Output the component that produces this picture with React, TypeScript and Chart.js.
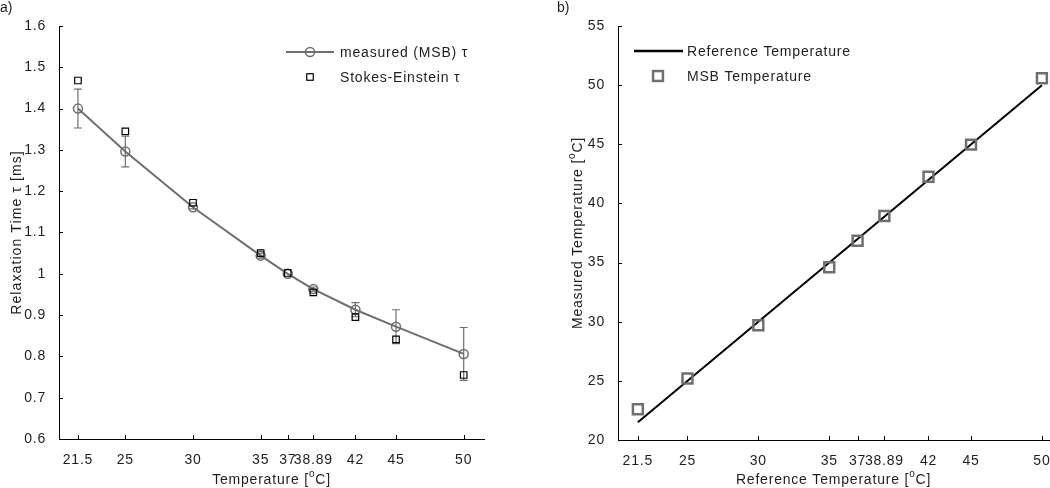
import React, { useEffect, useRef } from "react";
import { Chart, registerables } from "chart.js";

Chart.register(...registerables);

// ---- data ----
const temperatures = [21.5, 25, 30, 35, 37, 38.89, 42, 45, 50];
const tauMeasured = [1.4, 1.296, 1.161, 1.044, 1.0, 0.963, 0.913, 0.872, 0.806];
const tauError = [0.047, 0.037, 0.004, 0.006, 0, 0.005, 0.017, 0.041, 0.064];
const tauStokesEinstein = [1.468, 1.345, 1.172, 1.05, 1.002, 0.955, 0.895, 0.841, 0.755];
const msbTemperature = [22.6, 25.2, 29.7, 34.6, 36.85, 38.94, 42.26, 44.97, 50.58];
const referenceRange = [21.5, 50];
const tauTicks = [0.6, 0.7, 0.8, 0.9, 1.0, 1.1, 1.2, 1.3, 1.4, 1.5, 1.6];
const tempTicks = [20, 25, 30, 35, 40, 45, 50, 55];

const FONT = '"Liberation Sans", Arial, Helvetica, sans-serif';
const TEXT = "#1e1e1e";
const GRAY = "#6f6f6f";
const SPACING = "0.8px";

type RichPart = { t: string; sup?: boolean };

function drawRich(ctx: any, parts: RichPart[], cx: number, cy: number, rotate: boolean, spacing: string) {
  ctx.save();
  ctx.letterSpacing = spacing;
  ctx.translate(cx, cy);
  if (rotate) ctx.rotate(-Math.PI / 2);
  const base = `14px ${FONT}`;
  const sup = `10px ${FONT}`;
  let total = 0;
  parts.forEach((p) => {
    ctx.font = p.sup ? sup : base;
    total += ctx.measureText(p.t).width;
  });
  let x = -total / 2;
  ctx.fillStyle = TEXT;
  ctx.textAlign = "left";
  ctx.textBaseline = "alphabetic";
  parts.forEach((p) => {
    ctx.font = p.sup ? sup : base;
    ctx.fillText(p.t, x, p.sup ? -2 : 5);
    x += ctx.measureText(p.t).width;
  });
  ctx.restore();
}

type LegendItem = { kind: "lineCircle" | "rect" | "line"; color: string; text: string; y: number; r?: number; bw?: number; lw?: number };

function makeDecor(opts: {
  xTitle: RichPart[];
  yTitle: RichPart[];
  yTitleX: number;
  xTitleY: number;
  ySpacing: string;
  legend: { lineX0: number; lineX1: number; markX: number; textX: number; items: LegendItem[] };
  errors?: number[];
}) {
  return {
    id: "decor",
    beforeUpdate(chart: any) {
      chart.ctx.letterSpacing = SPACING;
    },
    beforeDraw(chart: any) {
      chart.ctx.letterSpacing = SPACING;
    },
    beforeDatasetsDraw(chart: any) {
      if (!opts.errors) return;
      const { ctx, scales } = chart;
      const meta = chart.getDatasetMeta(0);
      const ds = chart.data.datasets[0].data as { x: number; y: number }[];
      ctx.save();
      ctx.strokeStyle = GRAY;
      ctx.lineWidth = 1.2;
      meta.data.forEach((pt: any, i: number) => {
        const e = opts.errors![i];
        if (!e) return;
        const yTop = scales.y.getPixelForValue(ds[i].y + e);
        const yBot = scales.y.getPixelForValue(ds[i].y - e);
        const x = pt.x;
        ctx.beginPath();
        ctx.moveTo(x, yTop);
        ctx.lineTo(x, yBot);
        ctx.moveTo(x - 4, yTop);
        ctx.lineTo(x + 4, yTop);
        ctx.moveTo(x - 4, yBot);
        ctx.lineTo(x + 4, yBot);
        ctx.stroke();
      });
      ctx.restore();
    },
    afterDraw(chart: any) {
      const { ctx, chartArea, scales } = chart;
      ctx.save();
      // inward ticks
      ctx.strokeStyle = "#000";
      ctx.lineWidth = 1;
      ctx.beginPath();
      scales.x.ticks.forEach((t: any) => {
        const px = Math.round(scales.x.getPixelForValue(t.value)) + 0.5;
        ctx.moveTo(px, chartArea.bottom);
        ctx.lineTo(px, chartArea.bottom - 4);
      });
      scales.y.ticks.forEach((t: any) => {
        const py = Math.round(scales.y.getPixelForValue(t.value)) + 0.5;
        ctx.moveTo(chartArea.left, py);
        ctx.lineTo(chartArea.left + 4, py);
      });
      ctx.stroke();
      // titles
      drawRich(ctx, opts.xTitle, (chartArea.left + chartArea.right) / 2, opts.xTitleY, false, SPACING);
      drawRich(ctx, opts.yTitle, opts.yTitleX, (chartArea.top + chartArea.bottom) / 2, true, opts.ySpacing);
      // legend
      const L = opts.legend;
      L.items.forEach((it) => {
        ctx.strokeStyle = it.color;
        if (it.kind === "lineCircle" || it.kind === "line") {
          ctx.lineWidth = it.lw || 2;
          ctx.beginPath();
          ctx.moveTo(L.lineX0, it.y);
          ctx.lineTo(L.lineX1, it.y);
          ctx.stroke();
        }
        if (it.kind === "lineCircle") {
          ctx.lineWidth = it.bw || 1.5;
          ctx.beginPath();
          ctx.arc(L.markX, it.y, it.r || 4.5, 0, Math.PI * 2);
          ctx.stroke();
        }
        if (it.kind === "rect") {
          const s = Math.SQRT1_2 * (it.r || 5);
          ctx.lineWidth = it.bw || 1.2;
          ctx.strokeRect(L.markX - s, it.y - s, 2 * s, 2 * s);
        }
        ctx.fillStyle = TEXT;
        ctx.font = `14px ${FONT}`;
        ctx.letterSpacing = SPACING;
        ctx.textAlign = "left";
        ctx.textBaseline = "middle";
        ctx.fillText(it.text, L.textX, it.y + 1);
      });
      ctx.restore();
    },
  };
}

const tickFont = { family: FONT, size: 14 };
const fmt = (v: any) => String(Math.round(Number(v) * 100) / 100);

function xScale(min: number, max: number, height: number) {
  return {
    type: "linear" as const,
    min,
    max,
    afterBuildTicks: (s: any) => {
      s.ticks = temperatures.map((v) => ({ value: v }));
    },
    afterFit: (s: any) => {
      s.height = height;
    },
    grid: { display: false },
    border: { display: true, color: "#000", width: 1 },
    ticks: { autoSkip: false, maxRotation: 0, minRotation: 0, padding: 5, color: TEXT, font: tickFont, callback: fmt },
  };
}

function yScale(min: number, max: number, ticks: number[], width: number) {
  return {
    type: "linear" as const,
    min,
    max,
    afterBuildTicks: (s: any) => {
      s.ticks = ticks.map((v) => ({ value: v }));
    },
    afterFit: (s: any) => {
      s.width = width;
    },
    grid: { display: false },
    border: { display: true, color: "#000", width: 1 },
    ticks: { autoSkip: false, padding: 5, color: TEXT, font: tickFont, callback: fmt },
  };
}

function LeftChart() {
  const ref = useRef<HTMLCanvasElement>(null);
  useEffect(() => {
    const chart = new Chart(ref.current!, {
      type: "scatter",
      data: {
        datasets: [
          {
            label: "measured (MSB) τ",
            data: temperatures.map((x, i) => ({ x, y: tauMeasured[i] })),
            showLine: true,
            borderColor: GRAY,
            borderWidth: 2,
            pointStyle: "circle",
            pointRadius: 4.5,
            pointBorderColor: GRAY,
            pointBorderWidth: 1.5,
            pointBackgroundColor: "rgba(0,0,0,0)",
            order: 1,
          },
          {
            label: "Stokes-Einstein τ",
            data: temperatures.map((x, i) => ({ x, y: tauStokesEinstein[i] })),
            showLine: false,
            pointStyle: "rect",
            pointRadius: 4.6,
            pointBorderColor: "#000",
            pointBorderWidth: 1.2,
            pointBackgroundColor: "rgba(0,0,0,0)",
            order: 0,
          },
        ],
      },
      options: {
        animation: false,
        responsive: false,
        layout: { padding: { top: 26, right: 16, left: 0, bottom: 0 } },
        plugins: { legend: { display: false }, tooltip: { enabled: false } },
        scales: {
          x: xScale(20.1, 51.5, 49),
          y: yScale(0.6, 1.6, tauTicks, 59),
        },
      } as any,
      plugins: [
        makeDecor({
          xTitle: [{ t: "Temperature [" }, { t: "o", sup: true }, { t: "C]" }],
          yTitle: [{ t: "Relaxation Time τ [ms]" }],
          yTitleX: 16,
          xTitleY: 479,
          ySpacing: "1.1px",
          errors: tauError,
          legend: {
            lineX0: 286,
            lineX1: 334,
            markX: 310,
            textX: 340,
            items: [
              { kind: "lineCircle", color: GRAY, text: "measured (MSB) τ", y: 52 },
              { kind: "rect", color: "#000", text: "Stokes-Einstein τ", y: 77, r: 4.6 },
            ],
          },
        }) as any,
      ],
    });
    return () => chart.destroy();
  }, []);
  return <canvas ref={ref} width={500} height={488} style={{ position: "absolute", left: 0, top: 0, width: 500, height: 488 }} />;
}

function RightChart() {
  const ref = useRef<HTMLCanvasElement>(null);
  useEffect(() => {
    const chart = new Chart(ref.current!, {
      type: "scatter",
      data: {
        datasets: [
          {
            label: "Reference Temperature",
            data: referenceRange.map((v) => ({ x: v, y: v })),
            showLine: true,
            borderColor: "#000",
            borderWidth: 2,
            pointRadius: 0,
            order: 1,
          },
          {
            label: "MSB Temperature",
            data: temperatures.map((x, i) => ({ x, y: msbTemperature[i] })),
            showLine: false,
            pointStyle: "rect",
            pointRadius: 7,
            pointBorderColor: GRAY,
            pointBorderWidth: 2.5,
            pointBackgroundColor: "rgba(0,0,0,0)",
            order: 0,
          },
        ],
      },
      options: {
        animation: false,
        responsive: false,
        layout: { padding: { top: 26, right: 11, left: 0, bottom: 0 } },
        plugins: { legend: { display: false }, tooltip: { enabled: false } },
        scales: {
          x: xScale(20.1, 50.5, 48),
          y: yScale(20, 55, tempTicks, 57),
        },
      } as any,
      plugins: [
        makeDecor({
          xTitle: [{ t: "Reference Temperature [" }, { t: "o", sup: true }, { t: "C]" }],
          yTitle: [{ t: "Measured Temperature [" }, { t: "o", sup: true }, { t: "C]" }],
          yTitleX: 16,
          xTitleY: 479,
          ySpacing: "0.8px",
          legend: {
            lineX0: 73,
            lineX1: 122,
            markX: 97,
            textX: 126,
            items: [
              { kind: "line", color: "#000", text: "Reference Temperature", y: 51, lw: 2.5 },
              { kind: "rect", color: GRAY, text: "MSB Temperature", y: 76, r: 7, bw: 2.5 },
            ],
          },
        }) as any,
      ],
    });
    return () => chart.destroy();
  }, []);
  return <canvas ref={ref} width={499} height={488} style={{ position: "absolute", left: 561, top: 0, width: 499, height: 488 }} />;
}

export default function App() {
  const label: React.CSSProperties = {
    position: "absolute",
    top: -1,
    font: `14px ${FONT}`,
    lineHeight: "16px",
    color: TEXT,
  };
  return (
    <div style={{ position: "absolute", left: 0, top: 0, width: 1050, height: 488, overflow: "hidden", background: "#fff" }}>
      <LeftChart />
      <RightChart />
      <div style={{ ...label, left: 0 }}>a)</div>
      <div style={{ ...label, left: 557 }}>b)</div>
    </div>
  );
}
